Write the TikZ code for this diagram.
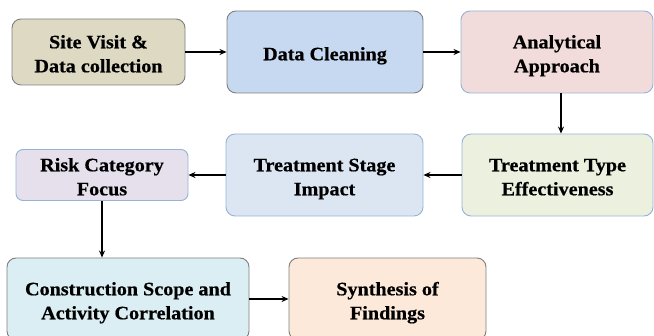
\documentclass[tikz,border=0pt]{standalone}
\usepackage{fontspec}
\setmainfont{Liberation Serif}[FakeStretch=1.06, BoldFeatures={FakeBold=0.6}]
\usetikzlibrary{arrows.meta}
\definecolor{cA}{HTML}{DDD9C3}
\definecolor{cB}{HTML}{C6D9F0}
\definecolor{cC}{HTML}{F2DCDB}
\definecolor{cD}{HTML}{EBF1DE}
\definecolor{cE}{HTML}{DCE6F2}
\definecolor{cF}{HTML}{E5E0EC}
\definecolor{cG}{HTML}{DAEEF3}
\definecolor{cH}{HTML}{FDE9D9}
\definecolor{bdgray}{HTML}{7F7F7F}
\definecolor{bdblue}{HTML}{95B3D7}
\newcommand\btwo[1]{\raisebox{0pt}[20pt][27.4pt]{\begin{tabular}[t]{@{}c@{}}#1\end{tabular}}}
\newcommand\bone[1]{\raisebox{0pt}[20pt][3.4pt]{\begin{tabular}[t]{@{}c@{}}#1\end{tabular}}}
\tikzset{
  procbox/.style={draw=bdgray, line width=0.9pt, rounded corners=9pt, inner sep=0pt,
    font=\fontsize{19}{24}\selectfont\bfseries, text=black},
  flow/.style={line width=1.4pt, -{Stealth[length=7pt,width=6pt]}}
}
\begin{document}
\begin{tikzpicture}[x=1pt,y=-1pt]
\useasboundingbox (0,0) rectangle (654,336);
\begin{scope}
\clip (0,0) rectangle (654,336);
\node[procbox, fill=cA, minimum width=173pt, minimum height=66pt] (b1) at (98.5,52) {\btwo{Site Visit \&\\Data collection}};
\node[procbox, fill=cB, minimum width=196pt, minimum height=82pt] (b2) at (325,52) {\bone{Data Cleaning}};
\node[procbox, fill=cC, draw=bdblue, minimum width=192pt, minimum height=82pt] (b3) at (557,52) {\btwo{Analytical\\Approach}};
\node[procbox, fill=cD, draw=bdblue, minimum width=191pt, minimum height=82pt] (b4) at (557.5,175) {\btwo{Treatment Type\\Effectiveness}};
\node[procbox, fill=cE, draw=bdblue, minimum width=197pt, minimum height=82pt] (b5) at (324.5,175) {\btwo{Treatment Stage\\Impact}};
\node[procbox, fill=cF, draw=bdblue, rounded corners=7pt, minimum width=172pt, minimum height=51pt] (b6) at (102,175) {\btwo{Risk Category\\Focus}};
\node[procbox, fill=cG, minimum width=242pt, minimum height=82pt] (b7) at (128,299) {\btwo{Construction Scope and\\Activity Correlation}};
\node[procbox, fill=cH, minimum width=197pt, minimum height=82pt] (b8) at (387.5,299) {\btwo{Synthesis of\\Findings}};
\end{scope}
\draw[flow] (b1.east) -- (b2.west |- b1.east);
\draw[flow] (b2.east) -- (b3.west |- b2.east);
\draw[flow] ([xshift=4pt]b3.south) -- ([xshift=4pt]b3.south |- b4.north);
\draw[flow] (b4.west) -- (b5.east |- b4.west);
\draw[flow] (b5.west) -- (b6.east |- b5.west);
\draw[flow] (b6.south) -- (b6.south |- b7.north);
\draw[flow] (b7.east) -- (b8.west |- b7.east);
\end{tikzpicture}
\end{document}
